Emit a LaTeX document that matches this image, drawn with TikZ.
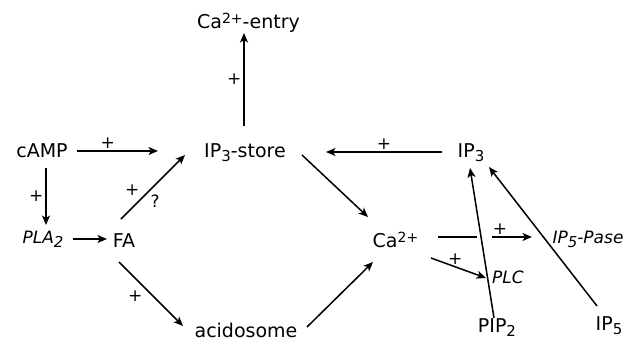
\documentclass[tikz,border=0pt]{standalone}
\usepackage{fontspec}
\setmainfont{DejaVu Sans}
\usetikzlibrary{arrows.meta}

\newcommand{\lo}[1]{\raisebox{-4.5pt}{\fontsize{15}{15}\selectfont #1}}
\newcommand{\hi}[1]{\raisebox{5pt}{\fontsize{14}{14}\selectfont #1}}

\tikzset{every picture/.style={line width=1.5pt}}
\tikzset{
    arr/.style={-{Stealth[length=9.5pt,width=8pt,inset=2.5pt]}},
    item/.style={inner sep=0pt, anchor=base, font=\fontsize{19}{23}\selectfont},
    enz/.style={item, font=\fontsize{17}{20}\selectfont\itshape},
    sign/.style={inner sep=2pt, font=\fontsize{17}{19}\selectfont},
}

\begin{document}
\begin{tikzpicture}[x=1pt, y=-1pt]
    \useasboundingbox (0,0) rectangle (636,348);

    % species
    \node[item] (entry) at (248.5,28) {Ca\hi{2+}-entry};
    \node[item] (camp)  at (42,157)   {cAMP};
    \node[item] (store) at (245,157)  {IP\lo{3}-store};
    \node[item] (ip3)   at (471,157)  {IP\lo{3}};
    \node[enz]  (pla)   at (43,243)   {PLA\lo{2}};
    \node[item] (fa)    at (124,247)  {FA};
    \node[item] (acid)  at (246,337)  {acidosome};
    \node[item] (ca)    at (395.5,247) {Ca\hi{2+}};
    \node[enz]  (pase)  at (588,243)  {IP\lo{5}-Pase};
    \node[enz]  (plc)   at (508,283)  {PLC};
    \node[item] (pip2)  at (497,332)  {PIP\lo{2}};
    \node[item] (ip5)   at (609,330)  {IP\lo{5}};

    % left half
    \draw[arr] ([shift={(-1,-31)}]store.base) -- node[sign, left] {+} ([shift={(-4.5,5)}]entry.base);
    \draw[arr] ([shift={(35,-6)}]camp.base) -- node[sign, above, pos=.38] {+} ([shift={(-87,-6)}]store.base);
    \draw[arr] ([shift={(4,11)}]camp.base) -- node[sign, left] {+} ([shift={(3,-18)}]pla.base);
    \draw[arr] ([shift={(30,-4)}]pla.base) -- ([shift={(-17,-8)}]fa.base);
    \draw[arr] ([shift={(-3,-28)}]fa.base) -- node[sign, above left, pos=.33] {+} node[sign, below right, pos=.42] {?} ([shift={(-60,-2)}]store.base);
    \draw[arr] ([shift={(-5,15)}]fa.base) -- node[sign, below left, pos=.41] {+} ([shift={(-63,-11)}]acid.base);

    % right half
    \draw[arr] ([shift={(-29,-5)}]ip3.base) -- node[sign, above] {+} ([shift={(81,-5)}]store.base);
    \draw[arr] ([shift={(57,-2)}]store.base) -- ([shift={(-27.5,-30)}]ca.base);
    \draw[arr] ([shift={(61,-10)}]acid.base) -- ([shift={(-22.5,15)}]ca.base);
    \draw[arr] ([shift={(42.5,-10)}]ca.base) -- ++(39,0) ++(15,0) -- node[sign, above, pos=.2] {+} ([shift={(-56,-6)}]pase.base);
    \draw[arr] ([shift={(-3,-14)}]pip2.base) -- ([shift={(-1,11)}]ip3.base);
    \draw[arr] ([shift={(-12,-24)}]ip5.base) -- ([shift={(18,10)}]ip3.base);
    \draw[arr] ([shift={(35.5,11)}]ca.base) -- node[sign, above, pos=.44] {+} ([shift={(-22,-5)}]plc.base);
\end{tikzpicture}
\end{document}
